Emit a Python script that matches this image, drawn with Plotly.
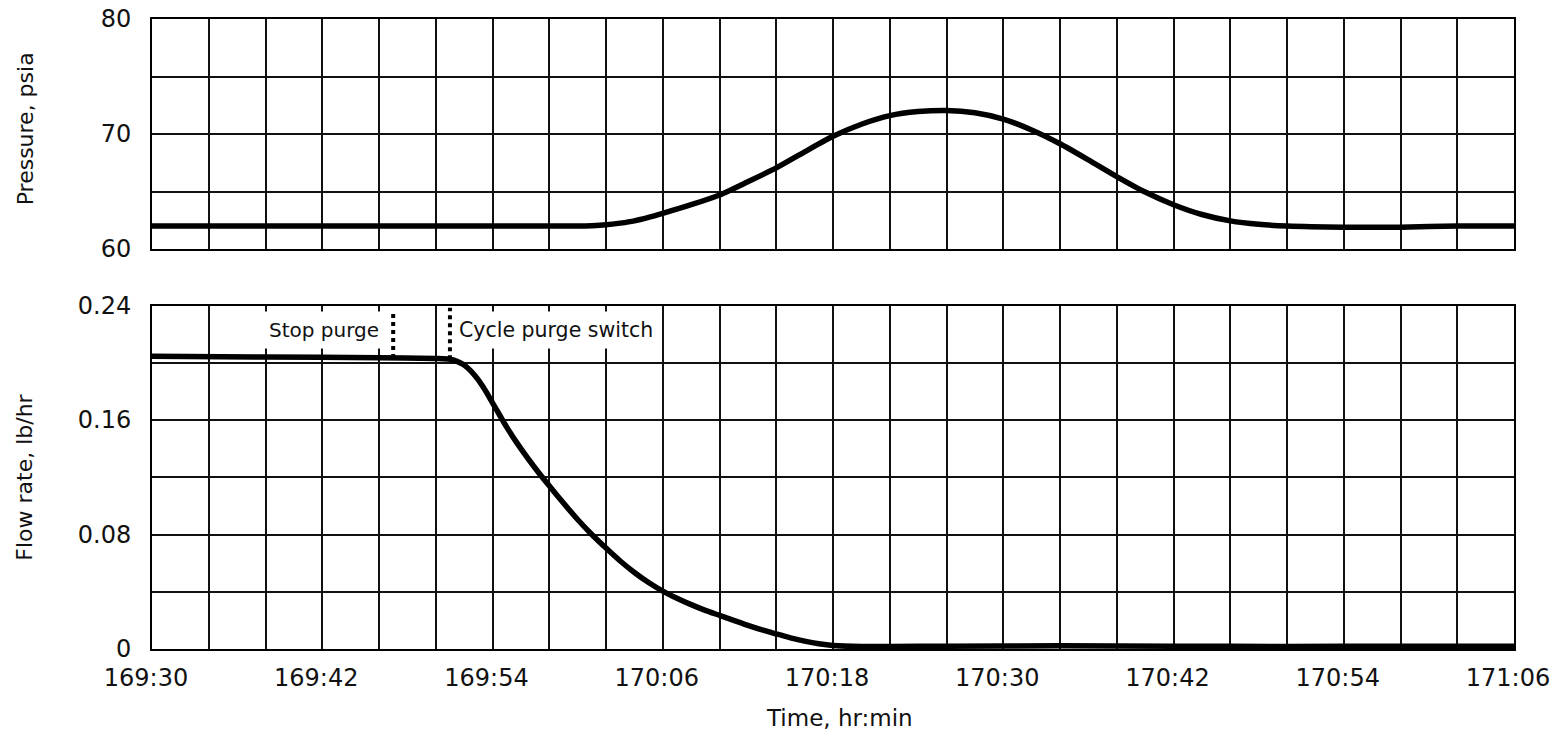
import numpy as np
import plotly.graph_objects as go

# Elapsed time in minutes from 169:30 (hr:min)
pressure_time_min = [0, 8, 16, 24, 30, 31, 32, 33, 34, 35, 36, 38, 40, 42, 44, 46,
                     48, 50, 52, 54, 56, 58, 60, 62, 64, 66, 68, 70, 72, 74, 76,
                     78, 80, 84, 88, 92, 96]
pressure_psia = [62.0, 62.0, 62.0, 62.0, 62.0, 62.03, 62.1, 62.25, 62.45, 62.75, 63.1,
                 63.85, 64.7, 65.85, 67.05, 68.45, 69.8, 70.85, 71.6, 71.95, 72.05,
                 71.85, 71.3, 70.35, 69.15, 67.75, 66.3, 64.95, 63.85, 63.0, 62.45,
                 62.15, 62.0, 61.9, 61.9, 62.0, 62.0]

flow_time_min = [0, 8, 16, 20, 21, 21.5, 22, 22.5, 23, 23.5, 24, 24.5, 25, 26, 27,
                 28, 29, 30, 31, 32, 33, 34, 35, 36, 37, 38, 39, 40, 41, 42, 43,
                 44, 45, 46, 47, 48, 50, 56, 64, 72, 80, 88, 96]
flow_lb_hr = [0.2045, 0.204, 0.2035, 0.203, 0.2025, 0.201, 0.1985, 0.194, 0.188,
              0.1805, 0.172, 0.1635, 0.155, 0.140, 0.1265, 0.114, 0.102, 0.0905,
              0.080, 0.0705, 0.0615, 0.0535, 0.0465, 0.0405, 0.0355, 0.031, 0.027,
              0.0235, 0.020, 0.0165, 0.0133, 0.0105, 0.0078, 0.0055, 0.0037,
              0.0025, 0.0018, 0.002, 0.0022, 0.002, 0.0018, 0.0019, 0.002]

x_tick_labels = ["169:30", "169:42", "169:54", "170:06", "170:18",
                 "170:30", "170:42", "170:54", "171:06"]
pressure_ticks = [60, 65, 70, 75, 80]
pressure_tick_labels = ["60", "", "70", "", "80"]
flow_ticks = [0, 0.04, 0.08, 0.12, 0.16, 0.20, 0.24]
flow_tick_labels = ["0", "", "0.08", "", "0.16", "", "0.24"]

event_labels = ["Stop purge", "Cycle purge switch"]
event_time_min = [17, 21]
event_marker_top = [0.2365, 0.2385]

FONT = "DejaVu Sans"
INK = "#111111"

grid_vals = list(range(0, 97, 4))
grid_text = [x_tick_labels[v // 12] if v % 12 == 0 else "" for v in grid_vals]

fig = go.Figure()

fig.add_trace(go.Scatter(
    x=pressure_time_min, y=pressure_psia, mode="lines",
    line=dict(color="black", width=5.5, shape="spline", smoothing=0.7),
    xaxis="x", yaxis="y", showlegend=False, hoverinfo="skip"))

fig.add_trace(go.Scatter(
    x=flow_time_min, y=flow_lb_hr, mode="lines",
    line=dict(color="black", width=5.5, shape="spline", smoothing=0.7),
    xaxis="x2", yaxis="y2", showlegend=False, hoverinfo="skip"))

# Dotted event markers, from the flow curve up toward the top border
for t, top in zip(event_time_min, event_marker_top):
    base = float(np.interp(t, flow_time_min, flow_lb_hr))
    fig.add_trace(go.Scatter(
        x=[t, t], y=[base, top], mode="lines",
        line=dict(color="black", width=4, dash="dot"),
        xaxis="x2", yaxis="y2", showlegend=False, hoverinfo="skip"))

annotations = [
    dict(text=event_labels[0], x=event_time_min[0], y=0.223, xref="x2", yref="y2",
         xanchor="right", yanchor="middle", xshift=-7, showarrow=False,
         bgcolor="white", borderpad=6, font=dict(family=FONT, size=20, color=INK)),
    dict(text=event_labels[1], x=event_time_min[1], y=0.223, xref="x2", yref="y2",
         xanchor="left", yanchor="middle", xshift=2, showarrow=False,
         bgcolor="white", borderpad=6, font=dict(family=FONT, size=20.5, color=INK)),
    dict(text="Pressure, psia", x=-0.0932, y=0.825, xref="paper", yref="paper",
         textangle=-90, showarrow=False, xanchor="center", yanchor="middle",
         font=dict(family=FONT, size=22, color=INK)),
    dict(text="Flow rate, lb/hr", x=-0.0932, y=0.272, xref="paper", yref="paper",
         textangle=-90, showarrow=False, xanchor="center", yanchor="middle",
         font=dict(family=FONT, size=22, color=INK)),
    dict(text="Time, hr:min", x=0.505, y=-0.1095, xref="paper", yref="paper",
         showarrow=False, xanchor="center", yanchor="middle",
         font=dict(family=FONT, size=23, color=INK)),
]

axis_common = dict(showgrid=True, gridcolor=INK, gridwidth=1.6, zeroline=False,
                   showline=True, mirror=True, linecolor="black", linewidth=2,
                   ticks="", automargin=False,
                   tickfont=dict(family=FONT, size=24, color=INK))

fig.update_layout(
    width=1564, height=740,
    margin=dict(l=152, r=50, t=19, b=91, autoexpand=False),
    paper_bgcolor="white", plot_bgcolor="white",
    showlegend=False,
    xaxis=dict(domain=[0, 1], anchor="y", range=[0, 96], tickvals=grid_vals,
               showticklabels=False, **axis_common),
    yaxis=dict(domain=[0.6349, 1], anchor="x", range=[60, 80],
               tickvals=pressure_ticks, ticktext=pressure_tick_labels,
               ticklabelstandoff=14, **axis_common),
    xaxis2=dict(domain=[0, 1], anchor="y2", range=[0, 96], tickvals=grid_vals,
                ticktext=grid_text, ticklabelstandoff=6, ticklabelshift=-6,
                **axis_common),
    yaxis2=dict(domain=[0, 0.5452], anchor="x2", range=[0, 0.24],
                tickvals=flow_ticks, ticktext=flow_tick_labels,
                ticklabelstandoff=14, **axis_common),
    annotations=annotations,
)

fig.write_html("out.html")
